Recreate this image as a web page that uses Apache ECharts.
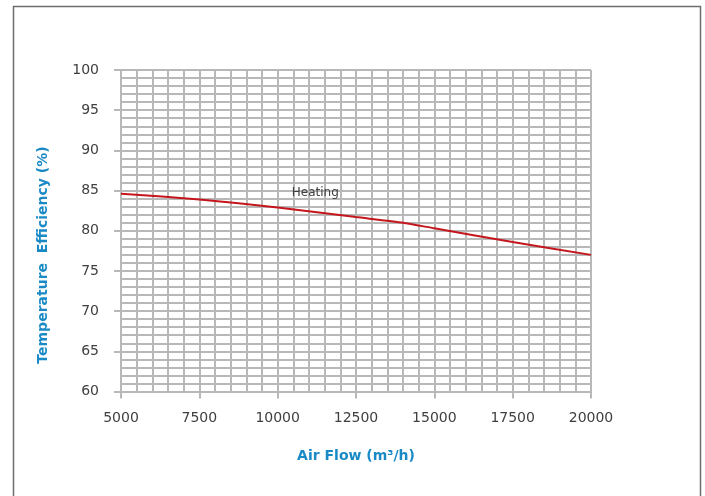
<!DOCTYPE html>
<html>
<head>
<meta charset="utf-8">
<script src="https://cdn.jsdelivr.net/npm/echarts@6/dist/echarts.min.js"></script>
<style>html,body{margin:0;padding:0;background:#fff;}#c{width:705px;height:496px;}</style>
</head>
<body>
<div id="c"></div>
<script>
const airFlow = [5000, 7500, 10000, 12500, 14000, 15000, 17500, 20000];
const heatingEff = [84.6, 83.9, 82.9, 81.7, 81.0, 80.3, 78.6, 77.0];
const seriesName = 'Heating';
const xTitle = 'Air Flow (m³/h)';
const yTitle = 'Temperature  Efficiency (%)';

const chart = echarts.init(document.getElementById('c'), null, {renderer: 'canvas'});
const gridColor = '#b8b8b8';
const labelFont = {color: '#404040', fontSize: 14, fontFamily: 'DejaVu Sans'};
chart.setOption({
  animation: false,
  backgroundColor: '#fff',
  graphic: [{
    type: 'rect', left: 11, top: 4, silent: true,
    shape: {x: 0, y: 0, width: 687, height: 500},
    style: {fill: 'none', stroke: '#6e6e6e', lineWidth: 1.5}
  }, {
    type: 'text', x: 43, y: 255, rotation: Math.PI / 2, silent: true,
    style: {text: yTitle, fill: '#1a8ac6', font: 'bold 14px "DejaVu Sans"', align: 'center', verticalAlign: 'middle'}
  }],
  grid: {left: 121, right: 114, top: 70, bottom: 104.5, containLabel: false},
  xAxis: {
    type: 'value', min: 5000, max: 20000, interval: 2500,
    name: xTitle, nameLocation: 'middle', nameGap: 58,
    nameTextStyle: {color: '#1a8ac6', fontWeight: 'bold', fontSize: 14, fontFamily: 'DejaVu Sans'},
    axisLine: {show: true, lineStyle: {color: gridColor, width: 2}},
    axisTick: {show: true, length: 7, lineStyle: {color: gridColor, width: 2}},
    axisLabel: Object.assign({margin: 20, formatter: v => String(v)}, labelFont),
    splitLine: {show: true, lineStyle: {color: gridColor, width: 2}},
    minorTick: {show: false, splitNumber: 5},
    minorSplitLine: {show: true, lineStyle: {color: gridColor, width: 2}}
  },
  yAxis: {
    type: 'value', min: 60, max: 100, interval: 5,
    axisLine: {show: true, lineStyle: {color: gridColor, width: 2}},
    axisTick: {show: true, length: 7, lineStyle: {color: gridColor, width: 2}},
    axisLabel: Object.assign({margin: 22}, labelFont),
    splitLine: {show: true, lineStyle: {color: gridColor, width: 2}},
    minorTick: {show: false, splitNumber: 5},
    minorSplitLine: {show: true, lineStyle: {color: gridColor, width: 2}}
  },
  series: [{
    name: seriesName, type: 'line', symbol: 'none', smooth: 0.2,
    data: airFlow.map((x, i) => [x, heatingEff[i]]),
    lineStyle: {color: '#c4161c', width: 2},
    markPoint: {
      symbol: 'circle', symbolSize: 0,
      data: [{coord: [11200, 84.7], value: seriesName}],
      label: {show: true, formatter: seriesName, color: '#404040', fontSize: 12, fontFamily: 'DejaVu Sans', position: 'inside'}
    }
  }]
});
</script>
</body>
</html>
